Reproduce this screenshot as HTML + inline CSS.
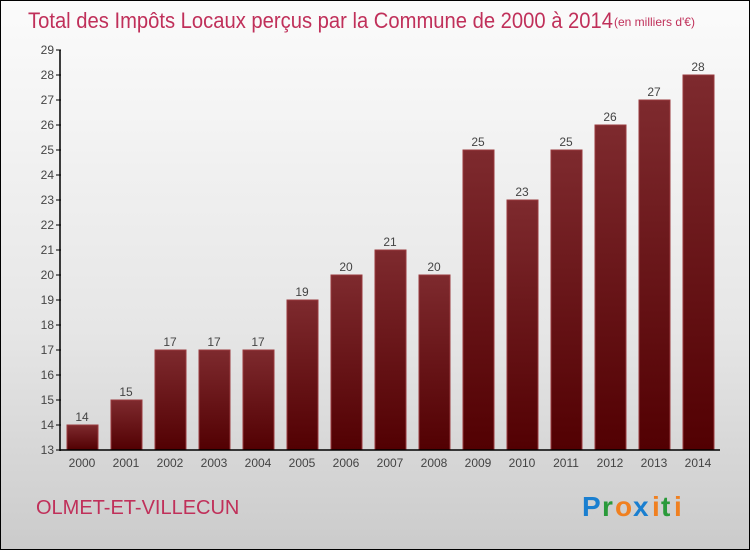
<!DOCTYPE html>
<html><head><meta charset="utf-8"><style>
body{margin:0}
#c{position:relative;width:750px;height:550px;box-sizing:border-box;border:1px solid #000;background:linear-gradient(#fbfbfb,#e6e6e6 60%,#cbcbcb);font-family:"Liberation Sans",sans-serif;overflow:hidden}
</style></head><body>
<div id="c">
<svg width="750" height="550" style="position:absolute;left:-1px;top:-1px">
<defs><linearGradient id="g" x1="0" y1="0" x2="0" y2="1"><stop offset="0" stop-color="#7e2a2e"/><stop offset="1" stop-color="#520002"/></linearGradient></defs>
<text x="28" y="28" font-size="22" fill="#c0305a" textLength="585" lengthAdjust="spacingAndGlyphs">Total des Impôts Locaux perçus par la Commune de 2000 à 2014</text>
<text x="614" y="26" font-size="12" fill="#c0305a">(en milliers d'€)</text>
<g id="plot"></g>
<text x="36" y="514" font-size="20" fill="#c0305a">OLMET-ET-VILLECUN</text>
<g font-size="28" font-weight="bold" font-family="Liberation Sans,sans-serif">
<text x="582" y="516" fill="#1a7fd0">P</text><text x="602" y="516" fill="#2a9a3a">r</text><text x="615" y="516" fill="#f08020">o</text><text x="633" y="516" fill="#1a7fd0">x</text><text x="652" y="516" fill="#f08020">i</text><text x="661" y="516" fill="#2a9a3a">t</text><text x="674" y="516" fill="#f08020">i</text></g>
</svg></div>
<script>
const years=["2000","2001","2002","2003","2004","2005","2006","2007","2008","2009","2010","2011","2012","2013","2014"];
const values=[14,15,17,17,17,19,20,21,20,25,23,25,26,27,28];
const yTicks=[13,14,15,16,17,18,19,20,21,22,23,24,25,26,27,28,29];
const NS="http://www.w3.org/2000/svg";
const g=document.getElementById('plot');
const y=v=>450-(v-13)*25, x=i=>82+i*44;
function mk(t,a){const e=document.createElementNS(NS,t);for(const k in a)e.setAttribute(k,a[k]);g.appendChild(e);return e;}
yTicks.forEach(t=>{
 const l=mk('line',{x1:56,x2:61,y1:y(t),y2:y(t),stroke:'#000'});
 
 
 const tx=mk('text',{x:54,y:y(t)+4,'text-anchor':'end','font-size':12,fill:'#444'});tx.textContent=t;
 
 
});
values.forEach((v,i)=>{
 const r=mk('rect',{x:x(i)-15,y:y(v),width:31,height:450-y(v),fill:'url(#g)',stroke:'#9a3a3e','stroke-width':1});
 
 
 const t=mk('text',{x:x(i),y:y(v)-4,'text-anchor':'middle','font-size':12,fill:'#444'});t.textContent=v;
 
 
 const yl=mk('text',{x:x(i),y:467,'text-anchor':'middle','font-size':12,fill:'#444'});yl.textContent=years[i];
 
 
});
const ya=mk('line',{x1:60,x2:60,y1:y(29),y2:451,stroke:'#000','stroke-width':1.5});


const xa=mk('line',{x1:60,x2:720,y1:450,y2:450,stroke:'#000','stroke-width':1.5});


</script>
</body></html>
